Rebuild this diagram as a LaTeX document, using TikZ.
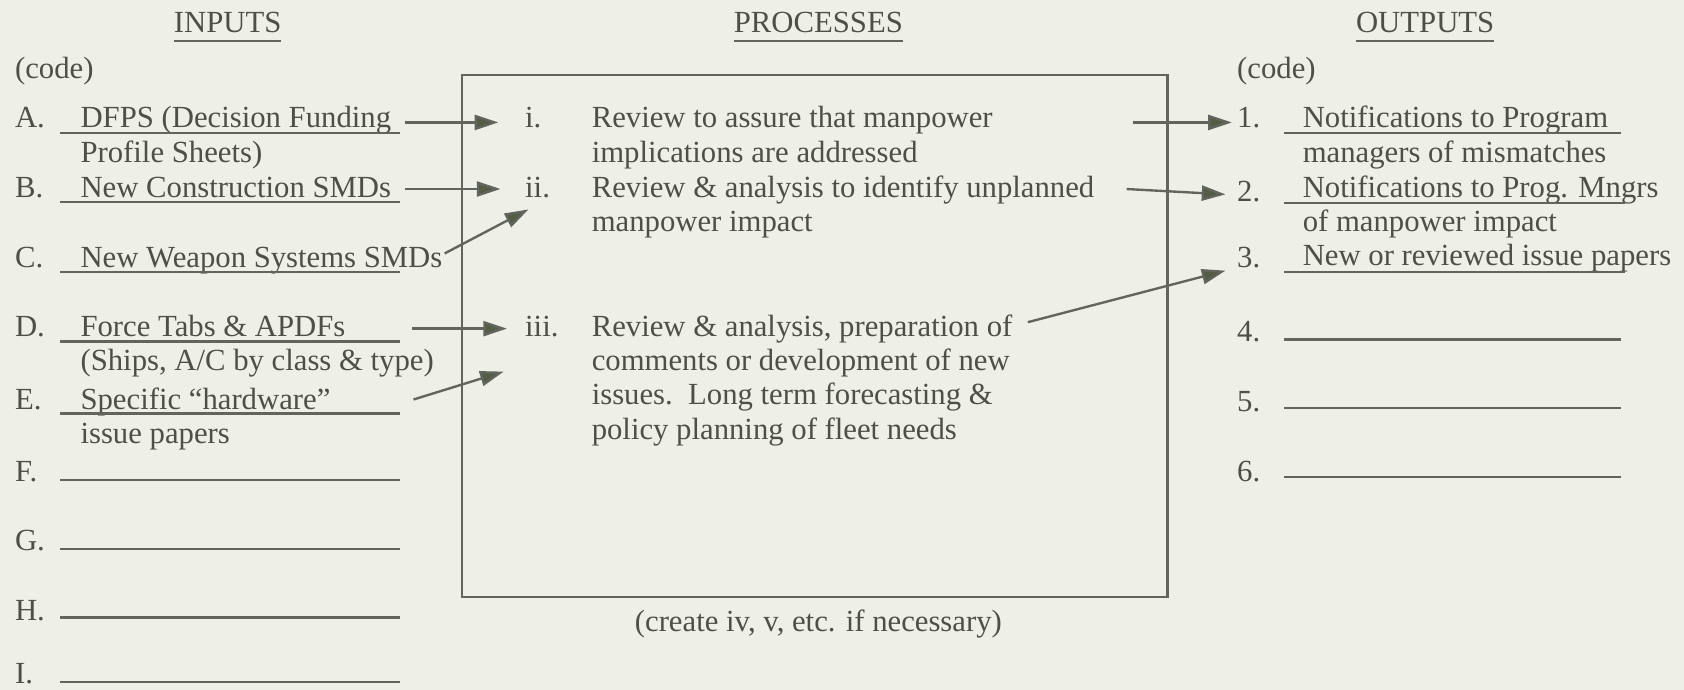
\documentclass[tikz,border=0pt]{standalone}
\usepackage{fontspec}
\setmainfont{Liberation Serif}
\usetikzlibrary{arrows.meta,calc}
\definecolor{bg}{RGB}{238,239,231}
\definecolor{ink}{RGB}{78,80,72}
\definecolor{rule}{RGB}{98,100,94}
\definecolor{headc}{RGB}{84,92,68}
\tikzset{
  txt/.style={anchor=base west, inner sep=0pt, outer sep=0pt, text=ink, font=\fontsize{14.3bp}{16bp}\selectfont},
  ctxt/.style={txt, anchor=base},
  uline/.style={draw=rule, line width=1.1bp},
  boxline/.style={draw=rule, line width=1.1bp},
  arr/.style={draw=rule, line width=1.1bp, -{Triangle[length=11bp,width=7bp,fill=headc]}},
}
\begin{document}
\begin{tikzpicture}[x=0.5bp, y=-0.5bp]
\fill[bg] (0,0) rectangle (1568,642);
\useasboundingbox (0,0) rectangle (1568,642);

% headers
\node[ctxt] (hin) at (212,30) {INPUTS};
\node[ctxt] (hpr) at (762,30) {PROCESSES};
\node[ctxt] (hout) at (1327,30) {OUTPUTS};
\foreach \h in {hin,hpr,hout}{
  \draw[uline] ($(\h.base west)+(0,8)$) -- ($(\h.base east)+(0,8)$);
}

\node[txt] (codeL) at (14,73) {(code)};
\node[txt] (codeR) at (1152,73) {(code)};

% process box
\draw[boxline] (430,70) rectangle (1087,556);

% inputs
\node[txt] (lA) at (14,119) {A.};
\node[txt] (tA) at (75,119) {DFPS (Decision Funding};
\node[txt] (tA2) at (75,151) {Profile Sheets)};
\node[txt] (lB) at (14,184) {B.};
\node[txt] (tB) at (75,184) {New Construction SMDs};
\node[txt] (lC) at (14,249) {C.};
\node[txt] (tC) at (75,249) {New Weapon Systems SMDs};
\node[txt] (lD) at (14,313) {D.};
\node[txt] (tD) at (75,313) {Force Tabs \& APDFs};
\node[txt] (tD2) at (75,345) {(Ships, A/C by class \& type)};
\node[txt] (lE) at (14,381) {E.};
\node[txt] (tE) at (75,381) {Specific “hardware”};
\node[txt] (tE2) at (75,413) {issue papers};
\node[txt] (lF) at (14,448) {F.};
\node[txt] (lG) at (14,513) {G.};
\node[txt] (lH) at (14,578) {H.};
\node[txt] (lI) at (14,636) {I.};
\foreach \yy in {124,188,253,318,385,447,511,575,635}{
  \draw[uline] (56,\yy) -- (372,\yy);
}

% processes
\node[txt] (pi) at (489,119) {i.};
\node[txt] (pit) at (551,119) {Review to assure that manpower};
\node[txt] (pit2) at (551,151) {implications are addressed};
\node[txt] (pii) at (489,184) {ii.};
\node[txt] (piit) at (551,184) {Review \& analysis to identify unplanned};
\node[txt] (piit2) at (551,216) {manpower impact};
\node[txt] (piii) at (489,313) {iii.};
\node[txt] (piiit) at (551,313) {Review \& analysis, preparation of};
\node[txt] (piiit2) at (551,345) {comments or development of new};
\node[txt] (piiit3) at (551,377) {issues.\ \ Long term forecasting \&};
\node[txt] (piiit4) at (551,409) {policy planning of fleet needs};
\node[ctxt] (cap) at (762,588) {(create iv, v, etc. if necessary)};

% outputs
\node[txt] (o1) at (1152,119) {1.};
\node[txt] (o1t) at (1213,119) {Notifications to Program};
\node[txt] (o1t2) at (1213,151) {managers of mismatches};
\node[txt] (o2) at (1152,188) {2.};
\node[txt] (o2t) at (1213,184) {Notifications to Prog. Mngrs};
\node[txt] (o2t2) at (1213,216) {of manpower impact};
\node[txt] (o3) at (1152,249) {3.};
\node[txt] (o3t) at (1213,247) {New or reviewed issue papers};
\node[txt] (o4) at (1152,318) {4.};
\node[txt] (o5) at (1152,383) {5.};
\node[txt] (o6) at (1152,448) {6.};
\draw[uline] (1196,124) -- (1509,124);
\draw[uline] (1196,189) -- (1513,189);
\draw[uline] (1196,253) -- (1513,253);
\draw[uline] (1196,316) -- (1509,316);
\draw[uline] (1196,380) -- (1509,380);
\draw[uline] (1196,444) -- (1509,444);

% arrow end points
\coordinate (sA) at (377,114);  \coordinate (eA) at (464,114);
\coordinate (sB) at (377,176);  \coordinate (eB) at (466,176);
\coordinate (sC) at (414,236);  \coordinate (eC) at (492,195);
\coordinate (sD) at (384,306);  \coordinate (eD) at (472,306);
\coordinate (sE) at (385,372);  \coordinate (eE) at (469,346);
\coordinate (s1) at (1055,114); \coordinate (e1) at (1147,114);
\coordinate (s2) at (1049,176); \coordinate (e2) at (1141,181);
\coordinate (s3) at (957,300);  \coordinate (e3) at (1141,252);
\foreach \a/\b in {sA/eA,sB/eB,sC/eC,sD/eD,sE/eE,s1/e1,s2/e2,s3/e3}{
  \draw[arr] (\a) -- (\b);
}
\end{tikzpicture}
\end{document}
